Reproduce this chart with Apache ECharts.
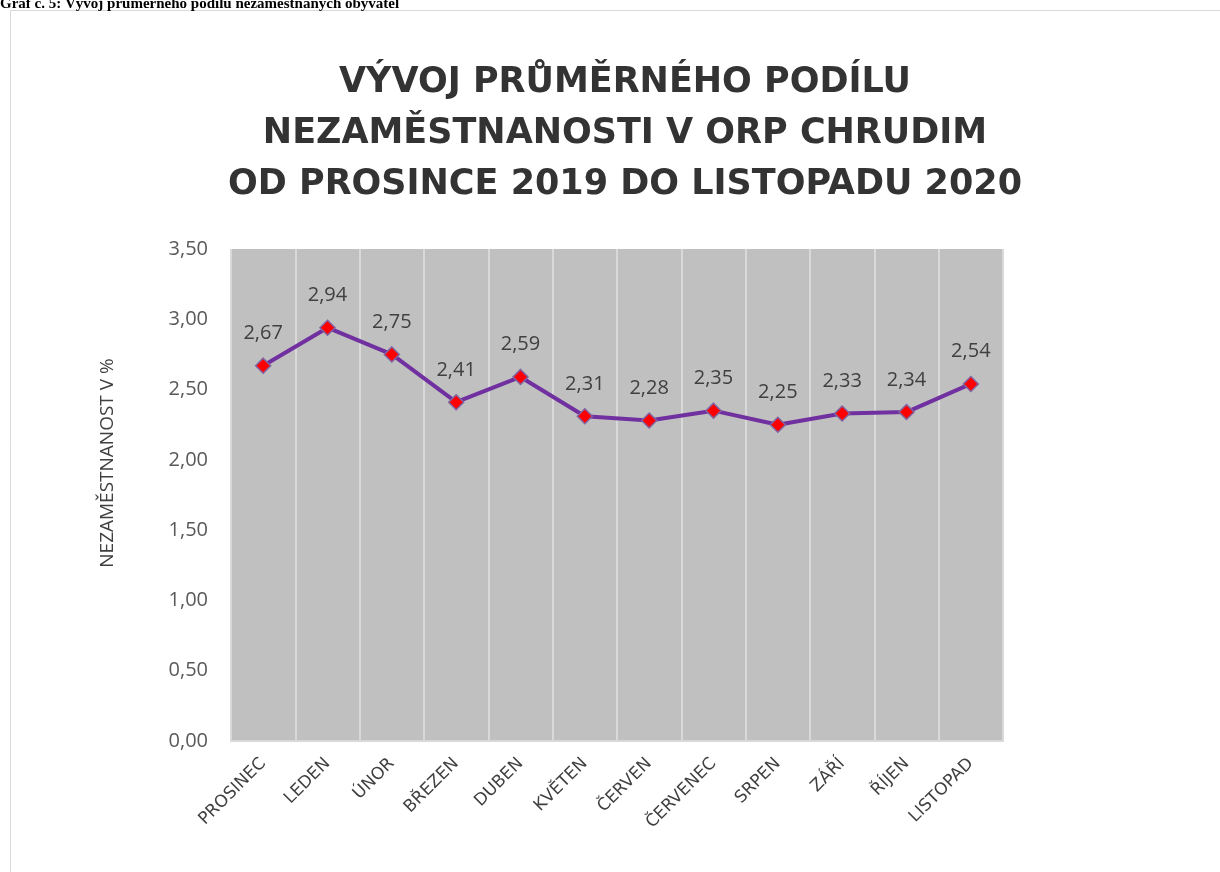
<!DOCTYPE html>
<html>
<head>
<meta charset="utf-8">
<script src="https://cdn.jsdelivr.net/npm/echarts@6/dist/echarts.min.js"></script>
<style>
  html, body { margin: 0; padding: 0; background: #fff; }
  #chart { width: 1220px; height: 872px; }
</style>
</head>
<body>
<div id="chart"></div>
<script>
var months = ['PROSINEC', 'LEDEN', 'ÚNOR', 'BŘEZEN', 'DUBEN', 'KVĚTEN', 'ČERVEN', 'ČERVENEC', 'SRPEN', 'ZÁŘÍ', 'ŘÍJEN', 'LISTOPAD'];
var rates = [2.67, 2.94, 2.75, 2.41, 2.59, 2.31, 2.28, 2.35, 2.25, 2.33, 2.34, 2.54];

var titleText = 'VÝVOJ PRŮMĚRNÉHO PODÍLU\nNEZAMĚSTNANOSTI V ORP CHRUDIM\nOD PROSINCE 2019 DO LISTOPADU 2020';
var captionText = 'Graf č. 5: Vývoj průměrného podílu nezaměstnaných obyvatel';
var yAxisName = 'NEZAMĚSTNANOST V %';

function czNum(v) {
    return v.toFixed(2).replace('.', ',');
}

var chart = echarts.init(document.getElementById('chart'));

var option = {
    backgroundColor: '#fff',
    animation: false,
    title: {
        text: titleText,
        left: 620,
        top: 52,
        textAlign: 'center',
        textStyle: {
            fontFamily: 'DejaVu Sans',
            fontWeight: 'bold',
            fontSize: 35,
            lineHeight: 51,
            color: '#333'
        }
    },
    graphic: [
        {
            type: 'rect',
            shape: { x: 10.5, y: 10.5, width: 1230, height: 900 },
            style: { fill: null, stroke: '#d9d9d9', lineWidth: 1 },
            silent: true
        },
        {
            type: 'text',
            left: 0,
            top: -3,
            style: {
                text: captionText,
                fontFamily: 'Liberation Serif',
                fontWeight: 'bold',
                fontSize: 15,
                fill: '#000'
            }
        },
        {
            type: 'text',
            x: 108,
            y: 463,
            rotation: Math.PI / 2,
            style: {
                text: yAxisName,
                fontFamily: 'Open Sans',
                fontSize: 19,
                fill: '#404040',
                textAlign: 'center',
                textVerticalAlign: 'middle'
            }
        }
    ],
    grid: {
        left: 231,
        right: 217,
        top: 249,
        bottom: 131,
        show: true,
        backgroundColor: '#c0c0c0',
        borderWidth: 0
    },
    xAxis: {
        type: 'category',
        data: months,
        boundaryGap: true,
        axisLine: { lineStyle: { color: '#d9d9d9', width: 2 } },
        axisTick: { show: false },
        splitLine: { show: true, lineStyle: { color: '#d9d9d9', width: 2 } },
        axisLabel: {
            rotate: 45,
            margin: 20,
            fontFamily: 'DejaVu Sans',
            fontSize: 17,
            color: '#404040'
        }
    },
    yAxis: {
        type: 'value',
        min: 0,
        max: 3.5,
        interval: 0.5,
        axisLine: { show: false },
        axisTick: { show: false },
        splitLine: { show: false },
        axisLabel: {
            margin: 23,
            fontFamily: 'Open Sans',
            fontSize: 20,
            color: '#595959',
            formatter: function (v) { return czNum(v); }
        }
    },
    series: [{
        type: 'line',
        data: rates,
        symbol: 'diamond',
        symbolSize: 15,
        lineStyle: { color: '#7030a0', width: 4 },
        itemStyle: { color: '#ff0000', borderColor: '#8064a2', borderWidth: 1.5 },
        label: {
            show: true,
            position: 'top',
            distance: 14,
            fontFamily: 'Open Sans',
            fontSize: 20,
            color: '#404040',
            formatter: function (p) { return czNum(p.value); }
        }
    }]
};

chart.setOption(option);
</script>
</body>
</html>
